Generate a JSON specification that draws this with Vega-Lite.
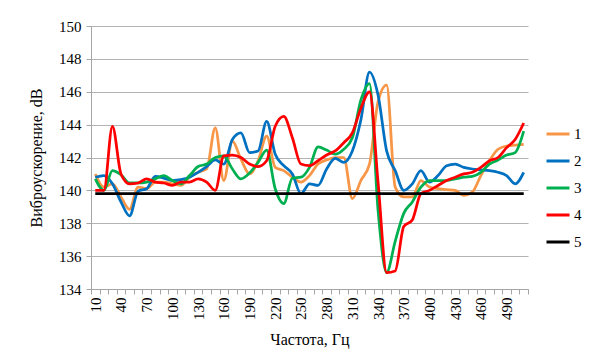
{
  "$schema": "https://vega.github.io/schema/vega-lite/v6.json",
  "width": 437,
  "height": 263,
  "autosize": {"type": "none"},
  "padding": {"left": 91, "top": 26, "right": 64, "bottom": 73},
  "background": "white",
  "config": {"view": {"stroke": null}},
  "data": {"values": [
    {"f":10,"1":141.0,"2":140.8,"3":140.7,"4":140.0,"5":139.8},
    {"f":20,"1":140.2,"2":140.9,"3":140.0,"4":140.0,"5":139.8},
    {"f":30,"1":140.4,"2":140.4,"3":141.2,"4":143.9,"5":139.8},
    {"f":40,"1":139.6,"2":139.3,"3":140.95,"4":141.0,"5":139.8},
    {"f":50,"1":138.85,"2":138.45,"3":140.45,"4":140.4,"5":139.8},
    {"f":60,"1":140.2,"2":139.95,"3":140.45,"4":140.45,"5":139.8},
    {"f":70,"1":140.1,"2":140.1,"3":140.5,"4":140.7,"5":139.8},
    {"f":80,"1":140.5,"2":140.85,"3":140.7,"4":140.5,"5":139.8},
    {"f":90,"1":140.5,"2":140.75,"3":140.9,"4":140.45,"5":139.8},
    {"f":100,"1":140.4,"2":140.6,"3":140.6,"4":140.3,"5":139.8},
    {"f":110,"1":140.3,"2":140.65,"3":140.4,"4":140.5,"5":139.8},
    {"f":120,"1":140.8,"2":140.8,"3":140.9,"4":140.5,"5":139.8},
    {"f":130,"1":141.1,"2":141.1,"3":141.45,"4":140.7,"5":139.8},
    {"f":140,"1":141.3,"2":141.45,"3":141.6,"4":140.5,"5":139.8},
    {"f":150,"1":143.8,"2":141.85,"3":142.0,"4":140.0,"5":139.8},
    {"f":160,"1":140.6,"2":141.6,"3":142.1,"4":142.1,"5":139.8},
    {"f":170,"1":143.0,"2":143.1,"3":141.3,"4":142.15,"5":139.8},
    {"f":180,"1":141.9,"2":143.5,"3":140.7,"4":142.0,"5":139.8},
    {"f":190,"1":141.0,"2":142.3,"3":141.05,"4":141.6,"5":139.8},
    {"f":200,"1":141.8,"2":142.4,"3":141.7,"4":141.45,"5":139.8},
    {"f":210,"1":143.3,"2":144.2,"3":142.45,"4":141.8,"5":139.8},
    {"f":220,"1":141.4,"2":142.2,"3":140.1,"4":143.9,"5":139.8},
    {"f":230,"1":141.2,"2":141.5,"3":139.2,"4":144.5,"5":139.8},
    {"f":240,"1":140.8,"2":141.0,"3":140.75,"4":143.2,"5":139.8},
    {"f":250,"1":140.5,"2":139.8,"3":140.8,"4":141.6,"5":139.8},
    {"f":260,"1":140.9,"2":140.4,"3":141.4,"4":141.5,"5":139.8},
    {"f":270,"1":141.6,"2":140.3,"3":142.65,"4":141.8,"5":139.8},
    {"f":280,"1":141.85,"2":141.3,"3":142.45,"4":142.15,"5":139.8},
    {"f":290,"1":142.0,"2":141.95,"3":142.2,"4":142.4,"5":139.8},
    {"f":300,"1":142.0,"2":141.7,"3":142.5,"4":142.9,"5":139.8},
    {"f":310,"1":139.5,"2":142.4,"3":143.2,"4":143.5,"5":139.8},
    {"f":320,"1":140.6,"2":144.3,"3":145.5,"4":145.0,"5":139.8},
    {"f":330,"1":141.6,"2":147.2,"3":146.5,"4":146.0,"5":139.8},
    {"f":340,"1":145.4,"2":145.8,"3":138.8,"4":140.5,"5":139.8},
    {"f":350,"1":146.4,"2":142.4,"3":135.0,"4":135.0,"5":139.8},
    {"f":360,"1":140.2,"2":141.2,"3":136.9,"4":135.1,"5":139.8},
    {"f":370,"1":139.6,"2":140.0,"3":138.6,"4":137.8,"5":139.8},
    {"f":380,"1":139.6,"2":140.4,"3":139.3,"4":138.2,"5":139.8},
    {"f":390,"1":140.6,"2":141.2,"3":140.2,"4":139.8,"5":139.8},
    {"f":400,"1":140.2,"2":140.5,"3":140.6,"4":140.0,"5":139.8},
    {"f":410,"1":140.1,"2":140.9,"3":140.6,"4":140.3,"5":139.8},
    {"f":420,"1":140.05,"2":141.5,"3":140.6,"4":140.6,"5":139.8},
    {"f":430,"1":140.0,"2":141.6,"3":140.7,"4":140.8,"5":139.8},
    {"f":440,"1":139.7,"2":141.4,"3":140.8,"4":141.0,"5":139.8},
    {"f":450,"1":139.9,"2":141.3,"3":140.85,"4":141.1,"5":139.8},
    {"f":460,"1":140.9,"2":141.25,"3":141.1,"4":141.4,"5":139.8},
    {"f":470,"1":141.8,"2":141.2,"3":141.6,"4":141.8,"5":139.8},
    {"f":480,"1":142.5,"2":141.1,"3":141.85,"4":142.0,"5":139.8},
    {"f":490,"1":142.7,"2":140.9,"3":142.15,"4":142.6,"5":139.8},
    {"f":500,"1":142.75,"2":140.4,"3":142.3,"4":143.1,"5":139.8},
    {"f":510,"1":142.8,"2":141.1,"3":143.6,"4":144.1,"5":139.8}
  ]},
  "transform": [{"fold": ["1","2","3","4","5"], "as": ["s","v"]}],
  "mark": {"type": "line", "interpolate": "monotone", "strokeWidth": 2.75},
  "encoding": {
    "x": {
      "field": "f", "type": "ordinal", "bandPosition": 0.5,
      "scale": {"type": "band", "paddingInner": 0, "paddingOuter": 0},
      "axis": {
        "title": "Частота, Гц",
        "labelAngle": -90,
        "labelExpr": "(datum.value - 10) % 30 === 0 ? datum.label : ''",
        "labelOverlap": false,
        "tickBand": "extent",
        "tickSize": 5,
        "tickColor": "#A6A6A6",
        "domainColor": "#A6A6A6",
        "grid": false,
        "labelFont": "Liberation Serif", "labelFontSize": 15, "labelColor": "#000000",
        "labelPadding": 3,
        "titleFont": "Liberation Serif", "titleFontSize": 16, "titleFontWeight": "normal", "titleColor": "#000000",
        "titlePadding": 12
      }
    },
    "y": {
      "field": "v", "type": "quantitative",
      "scale": {"domain": [134, 150], "nice": false, "zero": false},
      "axis": {
        "title": "Виброускорение, dB",
        "values": [134,136,138,140,142,144,146,148,150],
        "grid": true, "gridColor": "#B3B3B3",
        "tickSize": 5, "tickColor": "#A6A6A6", "domainColor": "#A6A6A6",
        "labelFont": "Liberation Serif", "labelFontSize": 15, "labelColor": "#000000",
        "labelPadding": 5,
        "titleFont": "Liberation Serif", "titleFontSize": 16, "titleFontWeight": "normal", "titleColor": "#000000",
        "titlePadding": 14
      }
    },
    "color": {
      "field": "s", "type": "nominal",
      "scale": {"domain": ["1","2","3","4","5"], "range": ["#F79646","#0070C0","#00B050","#FF0000","#000000"]},
      "legend": {
        "orient": "none", "legendX": 454, "legendY": 95, "title": null, "padding": 0,
        "symbolType": "stroke", "symbolSize": 529, "symbolStrokeWidth": 3,
        "labelFont": "Liberation Serif", "labelFontSize": 15, "labelColor": "#000000",
        "labelOffset": 3, "rowPadding": 6
      }
    }
  }
}
